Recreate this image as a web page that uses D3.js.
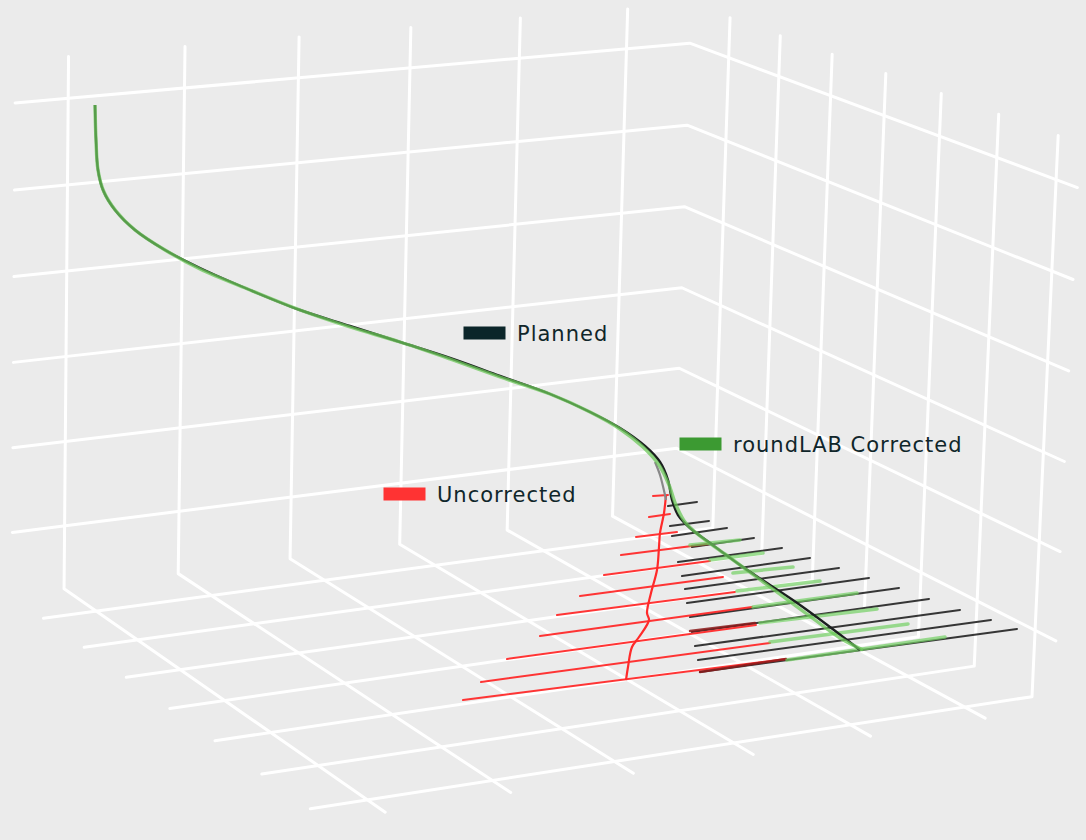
<!DOCTYPE html>
<html>
<head>
<meta charset="utf-8">
<script src="https://cdn.jsdelivr.net/npm/d3@7"></script>
<style>
  html, body { margin: 0; padding: 0; background: #ebebeb; }
  svg { display: block; }
</style>
</head>
<body>
<svg id="chart" width="1086" height="840"></svg>
<script>
// Scene box (world units): back wall at Y=0, right wall at X=xRight, floor at Z=0
const xTicks = [0, 1, 2, 3, 4, 5];
const yTicks = [0.8, 1.8, 2.8, 3.8, 4.8, 5.8, 6.8];
const zTicks = [0.75, 1.75, 2.75, 3.75, 4.75, 5.75];
const xLeft = -0.45, xRight = 5.6, yFront = 7.15, zTop = 6.23;

// camera calibration: world point -> view point (from the reference grid)
const calibration = [
  [0, 0, 5.75, 67, 95], [5, 0, 5.75, 626, 50], [0, 0, 0.75, 67, 523], [5, 0, 0.75, 613, 451],
  [5.6, 0, 5.75, 693, 45], [5.6, 0, 0.75, 678, 449],
  [5.6, 0.8, 5.75, 728, 58], [5.6, 1.8, 5.75, 777, 76], [5.6, 2.8, 5.75, 827, 95],
  [5.6, 3.8, 5.75, 886, 117], [5.6, 4.8, 5.75, 940, 137], [5.6, 5.8, 5.75, 999, 159],
  [5.6, 6.8, 5.75, 1057, 181], [5.6, 0.8, 3.75, 723, 222], [5.6, 6.8, 3.75, 1046, 358],
  [0, 0, 0, 65, 590], [0, 0.8, 0, 98, 613], [0, 1.8, 0, 138, 641], [0, 2.8, 0, 180, 669],
  [0, 3.8, 0, 226, 701], [0, 4.8, 0, 272, 733], [0, 5.8, 0, 321, 766], [0, 6.8, 0, 369, 799],
  [1, 0.8, 0, 210, 600], [1, 1.8, 0, 253, 624], [1, 2.8, 0, 297, 653], [1, 3.8, 0, 343, 683],
  [1, 4.8, 0, 388, 714], [1, 5.8, 0, 440, 747], [1, 6.8, 0, 491, 779],
  [5.6, 6.8, 0, 1032, 696], [5.6, 5.8, 0, 976, 668]
];

// well paths, in view units (tenths of the frame)
const planned = [[9.5,10.5],[9.6,14],[9.8,17],[10.3,19],[11.5,21],[13.5,23],[16.5,25],[20,26.8],[25,29],[30,31],[35,32.6],[40,34.2],[45,35.8],[50,37.6],[55,39.4],[59,41.2],[62,42.8],[64.5,44.6],[66,46.2],[66.8,48],[67.2,50],[67.8,51.5],[69,52.8],[71,54.3],[74,56.5],[77,58.5],[80,60.5],[83,62.7],[86,65]];
const corrected = [[9.5,10.5],[9.6,14],[9.8,17],[10.4,19.2],[11.6,21.1],[13.5,23],[16.5,25],[20,26.9],[25,29],[30,31],[35,32.7],[40,34.2],[45,35.9],[50,37.7],[55,39.4],[59,41.2],[62,42.9],[64.3,44.7],[65.9,46.5],[66.9,48.5],[67.6,50.5],[68.5,52.2],[70,53.6],[72.5,55.4],[75.5,57.6],[78.5,59.8],[81.5,62],[84,63.8],[86.3,65]];
const uncorrectedUpper = [[65.5,46.2],[66,47.5],[66.5,49.5],[66.6,50]];
const uncorrected = [[66.6,49.5],[66.4,51.3],[66,53.3],[65.9,54.7],[65.7,57],[65.1,59.3],[64.7,61.3],[64.9,62],[63.9,63.7],[63.2,64.7],[62.8,66.7],[62.6,68]];

// cross-section ribs: [x0, y0, x1, y1]
const plannedRibs = [[66.8,50.6,69.7,50.2],[67,52.6,70.9,52.1],[67.2,53.6,72.7,52.8],[69.2,54.7,75.4,53.8],[67.8,56.2,78.2,54.8],[68.2,57.6,81,55.8],[68.5,58.9,83.9,56.8],[68.7,60.3,86.9,57.8],[69,61.7,89.9,58.8],[69.2,63.2,92.9,59.9],[69.5,64.6,96,61],[69.8,66,99.1,62],[70,67.2,101.7,62.9]];
const uncorrectedRibs = [[65.3,49.6,66.8,49.5],[64.9,51.7,67,51.4],[63.6,53.7,67.7,53.2],[62.1,55.5,69.2,54.6],[60.4,57.5,71,56.1],[58,59.6,72.3,57.7],[55.7,61.5,73.5,59.2],[54,63.6,75.2,60.7],[50.7,65.9,75.6,62.5],[48.1,68.2,77,64.3],[46.3,70,78.6,65.9]];
const overlapRibs = [[69.2,54.6,70.8,54.4],[69,63.1,75.5,62.3],[70,67.2,78.6,65.9]];
const correctedRibs = [[69,54.5,74,54],[71,56,76.3,55.3],[73.3,57.3,79.3,56.7],[73.7,59.1,82,58.1],[75.3,60.7,85.7,59.3],[76,62.3,87.7,60.9],[77,64.2,90.8,62.4],[78.7,66,94.5,63.7]];

const legendItems = [
  { label: "Planned", color: "#0b2529", x: 46.5, y: 33.3 },
  { label: "roundLAB Corrected", color: "#3c9a32", x: 68.1, y: 44.4 },
  { label: "Uncorrected", color: "#ff3333", x: 38.5, y: 49.4 }
];

// --- fit a 3x4 projection (DLT, least squares) ---
function fitCamera(pts) {
  const N = 11, M = Array.from({ length: N }, () => new Array(N).fill(0)), r = new Array(N).fill(0);
  pts.forEach(([X, Y, Z, u, v]) => {
    const rows = [[[X, Y, Z, 1, 0, 0, 0, 0, -u * X, -u * Y, -u * Z], u],
                  [[0, 0, 0, 0, X, Y, Z, 1, -v * X, -v * Y, -v * Z], v]];
    rows.forEach(([a, b]) => {
      for (let i = 0; i < N; i++) {
        r[i] += a[i] * b;
        for (let j = 0; j < N; j++) M[i][j] += a[i] * a[j];
      }
    });
  });
  for (let c = 0; c < N; c++) {
    let p = c;
    for (let i = c + 1; i < N; i++) if (Math.abs(M[i][c]) > Math.abs(M[p][c])) p = i;
    [M[c], M[p]] = [M[p], M[c]]; [r[c], r[p]] = [r[p], r[c]];
    for (let i = 0; i < N; i++) {
      if (i === c) continue;
      const f = M[i][c] / M[c][c];
      for (let j = c; j < N; j++) M[i][j] -= f * M[c][j];
      r[i] -= f * r[c];
    }
  }
  return r.map((v, i) => v / M[i][i]);
}
const P = fitCamera(calibration);
const project = ([X, Y, Z]) => {
  const w = P[8] * X + P[9] * Y + P[10] * Z + 1;
  return [(P[0] * X + P[1] * Y + P[2] * Z + P[3]) / w, (P[4] * X + P[5] * Y + P[6] * Z + P[7]) / w];
};

const svg = d3.select("#chart");
const width = 1086, height = 840;
const xScale = d3.scaleLinear().domain([0, 108.6]).range([0, width]);
const yScale = d3.scaleLinear().domain([0, 84]).range([0, height]);

svg.append("rect").attr("width", width).attr("height", height).attr("fill", "#ebebeb");

// grid
const gridLine = d3.line().x(d => project(d)[0]).y(d => project(d)[1]);
const grid = [];
xTicks.forEach(x => grid.push([[x, 0, zTop], [x, 0, 0], [x, yFront, 0]]));
zTicks.forEach(z => grid.push([[xLeft, 0, z], [xRight, 0, z], [xRight, yFront, z]]));
yTicks.forEach(y => grid.push([[xRight, y, zTop], [xRight, y, 0], [xLeft, y, 0]]));

svg.append("g").attr("class", "grid")
  .selectAll("path").data(grid).join("path")
  .attr("d", gridLine)
  .attr("fill", "none")
  .attr("stroke", "#ffffff")
  .attr("stroke-width", 3)
  .attr("stroke-linejoin", "round")
  .attr("stroke-linecap", "round");

// data
const line = d3.line().x(d => xScale(d[0])).y(d => yScale(d[1])).curve(d3.curveCatmullRom);
const g = svg.append("g").attr("class", "wells");

const ribs = (data, color, w, op) => g.append("g")
  .selectAll("line").data(data).join("line")
  .attr("x1", d => xScale(d[0])).attr("y1", d => yScale(d[1]))
  .attr("x2", d => xScale(d[2])).attr("y2", d => yScale(d[3]))
  .attr("stroke", color).attr("stroke-width", w).attr("stroke-opacity", op)
  .attr("stroke-linecap", "round");

ribs(plannedRibs, "#222222", 2, 0.9);
ribs(uncorrectedRibs, "#ff2a2a", 2, 0.95);
ribs(overlapRibs, "#8b1a1a", 2.4, 0.85);
ribs(correctedRibs, "#74d064", 3.5, 0.7);

g.append("path").datum(uncorrected).attr("d", line)
  .attr("fill", "none").attr("stroke", "#ff2a2a").attr("stroke-width", 2.2);
g.append("path").datum(uncorrectedUpper).attr("d", line)
  .attr("fill", "none").attr("stroke", "#888888").attr("stroke-width", 2.2);
g.append("path").datum(planned).attr("d", line)
  .attr("fill", "none").attr("stroke", "#1b1f1f").attr("stroke-width", 2.4);
g.append("path").datum(corrected).attr("d", line)
  .attr("fill", "none").attr("stroke", "#6cc85a").attr("stroke-width", 3.4)
  .attr("stroke-opacity", 0.75);

// legend
const legend = svg.append("g").attr("class", "legend")
  .selectAll("g").data(legendItems).join("g")
  .attr("transform", d => `translate(${xScale(d.x)},${yScale(d.y)})`);
legend.append("rect").attr("x", -1.5).attr("y", -6.5).attr("width", 42).attr("height", 13)
  .attr("fill", d => d.color);
legend.append("text").attr("x", 52).attr("y", 7.5)
  .attr("fill", "#10262a")
  .style("font-family", "'DejaVu Sans', sans-serif")
  .style("font-size", "21px")
  .style("letter-spacing", "1px")
  .text(d => d.label);
</script>
</body>
</html>
